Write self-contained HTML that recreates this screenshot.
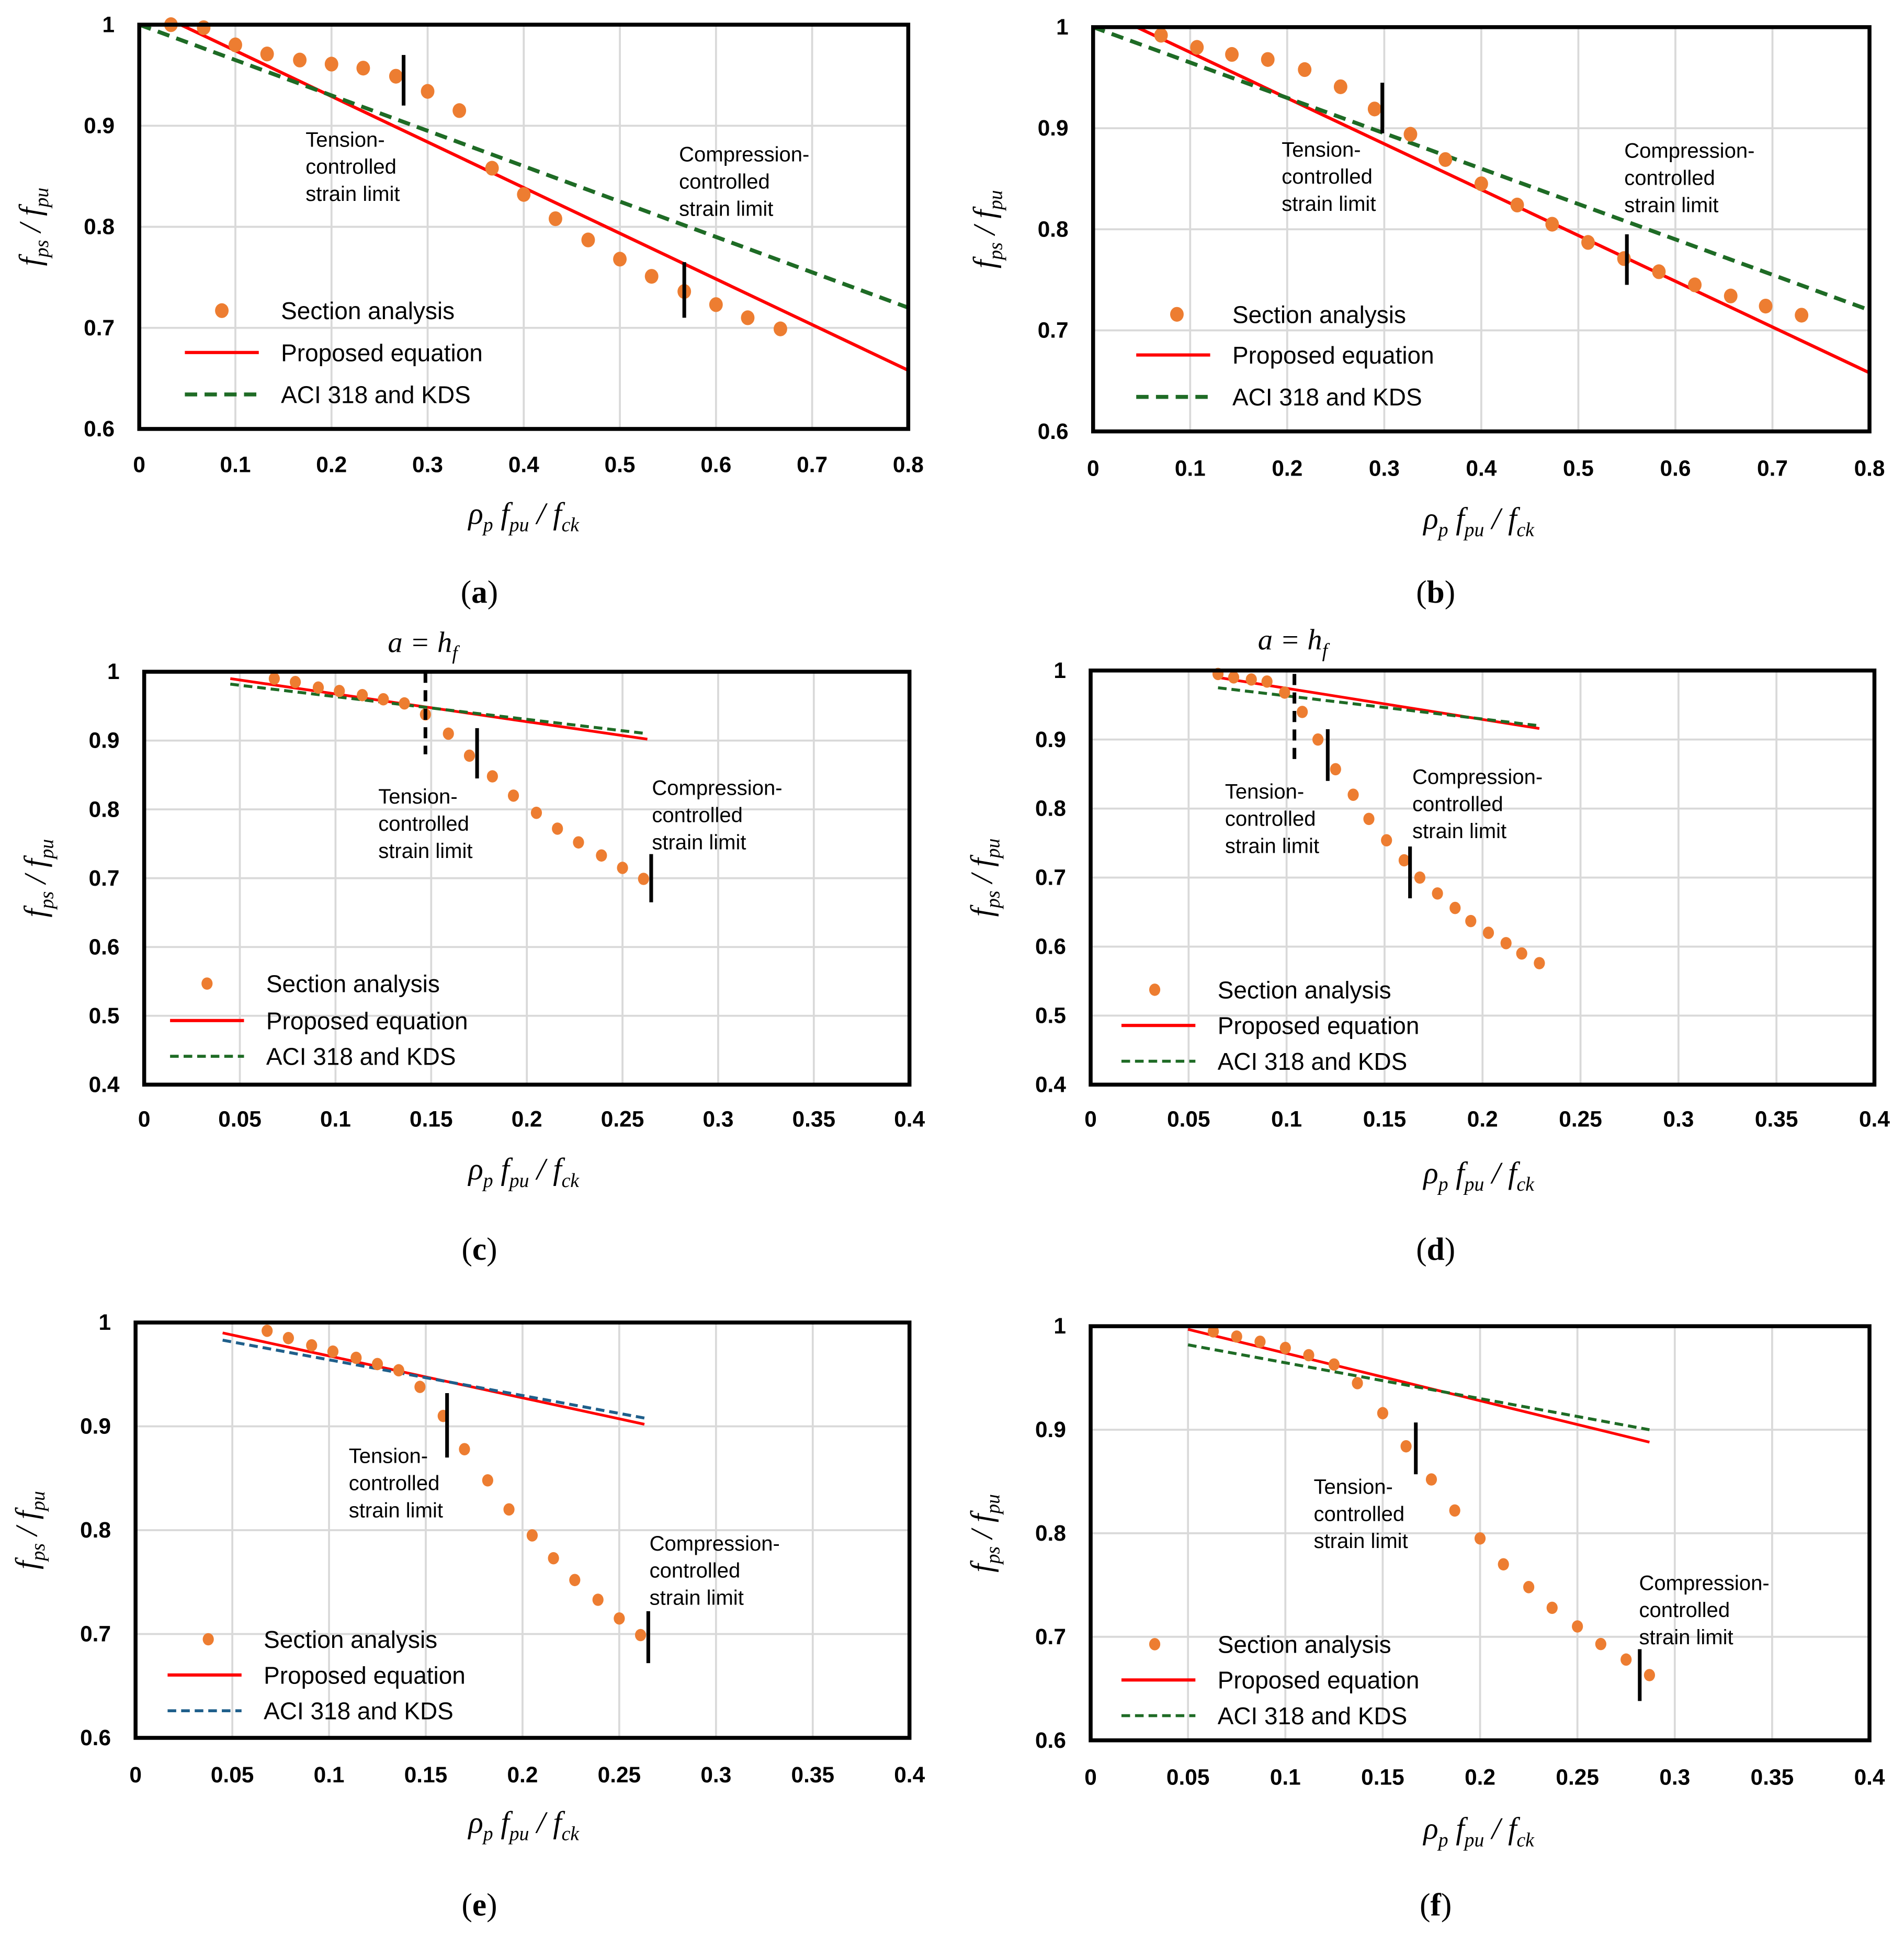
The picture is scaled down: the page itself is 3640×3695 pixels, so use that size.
<!DOCTYPE html>
<html><head><meta charset="utf-8"><style>
html,body{margin:0;padding:0;background:#fff;}
svg{display:block;}
</style></head><body>
<svg id="fig" xmlns="http://www.w3.org/2000/svg" width="3640" height="3695" viewBox="0 0 1545 1568.3"></svg>
<script>
// ---------- DATA ----------
const aX=[0.033,0.067,0.1,0.133,0.167,0.2,0.233,0.267,0.3,0.333,0.367,0.4,0.433,0.467,0.5,0.533,0.567,0.6,0.633,0.667];
const aY=[1.0,0.997,0.98,0.971,0.965,0.961,0.957,0.949,0.934,0.915,0.858,0.832,0.808,0.787,0.768,0.751,0.736,0.723,0.710,0.699];
const aProp=[[0.043,1.0],[0.8,0.658]];
const aAci=[[0,1.0],[0.8,0.72]];
const bX=[0.07,0.107,0.143,0.18,0.218,0.255,0.29,0.327,0.363,0.4,0.437,0.473,0.51,0.547,0.583,0.62,0.657,0.693,0.73];
const bY=[0.992,0.98,0.973,0.968,0.958,0.941,0.919,0.894,0.869,0.845,0.824,0.805,0.787,0.771,0.758,0.745,0.734,0.724,0.715];
const bProp=[[0.045,1.0],[0.8,0.658]];
const bAci=[[0,1.0],[0.8,0.72]];
const cX=[0.068,0.079,0.091,0.102,0.114,0.125,0.136,0.147,0.159,0.17,0.182,0.193,0.205,0.216,0.227,0.239,0.25,0.261];
const cY=[0.99,0.985,0.977,0.972,0.966,0.96,0.954,0.938,0.91,0.878,0.848,0.82,0.795,0.772,0.752,0.733,0.715,0.699];
const cProp=[[0.045,0.99],[0.263,0.902]];
const cAci=[[0.045,0.982],[0.263,0.91]];
const dX=[0.065,0.073,0.082,0.09,0.099,0.108,0.116,0.125,0.134,0.142,0.151,0.16,0.168,0.177,0.186,0.194,0.203,0.212,0.22,0.229];
const dY=[0.995,0.99,0.987,0.984,0.968,0.94,0.9,0.857,0.82,0.785,0.754,0.725,0.7,0.677,0.656,0.637,0.62,0.605,0.59,0.576];
const dProp=[[0.065,0.99],[0.229,0.916]];
const dAci=[[0.065,0.975],[0.229,0.92]];
const eX=[0.068,0.079,0.091,0.102,0.114,0.125,0.136,0.147,0.159,0.17,0.182,0.193,0.205,0.216,0.227,0.239,0.25,0.261];
const eY=[0.992,0.985,0.978,0.972,0.966,0.96,0.954,0.938,0.91,0.878,0.848,0.82,0.795,0.773,0.752,0.733,0.715,0.699];
const eProp=[[0.045,0.99],[0.263,0.902]];
const eAci=[[0.045,0.983],[0.263,0.908]];
const fX=[0.063,0.075,0.087,0.1,0.112,0.125,0.137,0.15,0.162,0.175,0.187,0.2,0.212,0.225,0.237,0.25,0.262,0.275,0.287];
const fY=[0.995,0.99,0.985,0.979,0.972,0.963,0.945,0.916,0.884,0.852,0.822,0.795,0.77,0.748,0.728,0.71,0.693,0.678,0.663];
const fProp=[[0.05,0.997],[0.287,0.888]];
const fAci=[[0.05,0.982],[0.287,0.9]];
const xTicks08=[0,0.1,0.2,0.3,0.4,0.5,0.6,0.7,0.8];
const xTicks04=[0,0.05,0.1,0.15,0.2,0.25,0.3,0.35,0.4];
const yTicks06=[0.6,0.7,0.8,0.9,1];
const yTicks04=[0.4,0.5,0.6,0.7,0.8,0.9,1];

const NS="http://www.w3.org/2000/svg";
const svg=document.getElementById('fig');
function mk(tag,attrs,parent){const e=document.createElementNS(NS,tag);for(const k in attrs)e.setAttribute(k,attrs[k]);(parent||svg).appendChild(e);return e;}

const panels=[
 {id:'a',L:113,R:737,T:20,B:348,x0:0,x1:0.8,y0:0.6,y1:1,xt:xTicks08,yt:yTicks06,X:aX,Y:aY,prop:aProp,aci:aAci,aciCol:'#1e6b25',thick:true,
  marks:[[0.275,0.97,0.92],[0.567,0.765,0.71]],dash:null,leg:[180,252,286,320,228],ten:[248,113],com:[551,125],cap:[389,480],xl:377,tl:[425,420]},
 {id:'b',L:887,R:1517,T:22,B:350,x0:0,x1:0.8,y0:0.6,y1:1,xt:xTicks08,yt:yTicks06,X:bX,Y:bY,prop:bProp,aci:bAci,aciCol:'#1e6b25',thick:true,
  marks:[[0.298,0.945,0.895],[0.55,0.795,0.745]],dash:null,leg:[955,255,288,322,1000],ten:[1040,121],com:[1318,122],cap:[1165,480],xl:380,tl:[1200,424]},
 {id:'c',L:117,R:738,T:545,B:880,x0:0,x1:0.4,y0:0.4,y1:1,xt:xTicks04,yt:yTicks04,X:cX,Y:cY,prop:cProp,aci:cAci,aciCol:'#1e6b25',thick:false,
  marks:[[0.174,0.918,0.845],[0.265,0.735,0.665]],dash:[0.147,1.0,0.88],ah:[343,521],leg:[168,798,828,857,216],ten:[307,646],com:[529,639],cap:[389,1013],xl:908,tl:[425,952]},
 {id:'d',L:885,R:1521,T:544,B:880,x0:0,x1:0.4,y0:0.4,y1:1,xt:xTicks04,yt:yTicks04,X:dX,Y:dY,prop:dProp,aci:dAci,aciCol:'#1e6b25',thick:false,
  marks:[[0.121,0.915,0.84],[0.163,0.745,0.67]],dash:[0.104,0.995,0.87],ah:[1049,519],leg:[937,803,832,861,988],ten:[994,642],com:[1146,630],cap:[1165,1013],xl:908,tl:[1200,955]},
 {id:'e',L:110,R:738,T:1073,B:1410,x0:0,x1:0.4,y0:0.6,y1:1,xt:xTicks04,yt:yTicks06,X:eX,Y:eY,prop:eProp,aci:eAci,aciCol:'#1f5f8b',thick:false,
  marks:[[0.161,0.932,0.87],[0.265,0.722,0.672]],dash:null,leg:[169,1330,1359,1388,214],ten:[283,1181],com:[527,1252],cap:[389,1545],xl:1440,tl:[425,1482]},
 {id:'f',L:885,R:1517,T:1076,B:1412,x0:0,x1:0.4,y0:0.6,y1:1,xt:xTicks04,yt:yTicks06,X:fX,Y:fY,prop:fProp,aci:fAci,aciCol:'#1e6b25',thick:false,
  marks:[[0.167,0.907,0.857],[0.282,0.688,0.638]],dash:null,leg:[937,1334,1363,1392,988],ten:[1066,1206],com:[1330,1284],cap:[1165,1545],xl:1442,tl:[1200,1487]}
];

const SANS='"Liberation Sans", Arial, sans-serif';
const SERIF='"Liberation Serif", "Times New Roman", serif';

panels.forEach(p=>{
  const g=mk('g',{});
  
  
  const sx=v=>p.L+(v-p.x0)/(p.x1-p.x0)*(p.R-p.L);
  const sy=v=>p.B-(v-p.y0)/(p.y1-p.y0)*(p.B-p.T);
  p.xt.forEach(t=>{const l=mk('line',{x1:sx(t),x2:sx(t),y1:p.T,y2:p.B,stroke:'#d9d9d9','stroke-width':1.6},g);
    });
  p.yt.forEach(t=>{const l=mk('line',{x1:p.L,x2:p.R,y1:sy(t),y2:sy(t),stroke:'#d9d9d9','stroke-width':1.6},g);
    });
  p.xt.forEach(t=>{const e=mk('text',{x:sx(t),y:p.xl+6,'text-anchor':'middle','font-family':SANS,'font-size':18,'font-weight':'bold',fill:'#000'},g);
    e.textContent=String(t);});
  p.yt.forEach(t=>{const e=mk('text',{x:p.L-20,y:sy(t)+6,'text-anchor':'end','font-family':SANS,'font-size':18,'font-weight':'bold',fill:'#000'},g);
    e.textContent=String(t);});
  const pl=mk('line',{x1:sx(p.prop[0][0]),y1:sy(p.prop[0][1]),x2:sx(p.prop[1][0]),y2:sy(p.prop[1][1]),stroke:'#ff0000','stroke-width':p.thick?2.6:2.2},g);
  
  const al=mk('line',{x1:sx(p.aci[0][0]),y1:sy(p.aci[0][1]),x2:sx(p.aci[1][0]),y2:sy(p.aci[1][1]),stroke:p.aciCol,'stroke-width':p.thick?3.2:2.4,'stroke-dasharray':p.thick?'10,6':'7,4'},g);
  
  p.X.forEach((x,i)=>{const c=mk('ellipse',{cx:sx(x),cy:sy(p.Y[i]),rx:p.thick?5.5:4.5,ry:p.thick?6:5,fill:'#ed7d31'},g);
    });
  p.marks.forEach((m,i)=>{const l=mk('line',{x1:sx(m[0]),x2:sx(m[0]),y1:sy(m[1]),y2:sy(m[2]),stroke:'#000','stroke-width':3},g);
    });
  if(p.dash){const l=mk('line',{x1:sx(p.dash[0]),x2:sx(p.dash[0]),y1:sy(p.dash[1]),y2:sy(p.dash[2]),stroke:'#000','stroke-width':3,'stroke-dasharray':'9,6'},g);
    
    const t=mk('text',{x:p.ah[0],y:p.ah[1]+8,'text-anchor':'middle','font-family':SERIF,'font-size':24,'font-style':'italic',fill:'#000'},g);
    t.innerHTML='a = h<tspan font-size="16" dy="6">f</tspan>';
    }
  const fr=mk('rect',{x:p.L,y:p.T,width:p.R-p.L,height:p.B-p.T,fill:'none',stroke:'#000','stroke-width':3.2},g);
  
  function lines3(x,y,arr,name){const t=mk('text',{x:x,y:y+6,'font-family':SANS,'font-size':17,fill:'#000'},g);
    arr.forEach((s,i)=>{const ts=mk('tspan',{x:x,dy:i?22:0},t);ts.textContent=s;});
    }
  lines3(p.ten[0],p.ten[1],['Tension-','controlled','strain limit'],'tension-limit-label');
  lines3(p.com[0],p.com[1],['Compression-','controlled','strain limit'],'compression-limit-label');
  const lg=mk('g',{},g);
  const [mx,my,ly1,ly2,tx]=p.leg;
  const lm=mk('ellipse',{cx:mx,cy:my,rx:p.thick?5.5:4.5,ry:p.thick?6:5,fill:'#ed7d31'},lg);
  
  const l1=mk('line',{x1:tx-78,x2:tx-18,y1:ly1,y2:ly1,stroke:'#ff0000','stroke-width':2.6},lg);
  
  const l2=mk('line',{x1:tx-78,x2:tx-18,y1:ly2,y2:ly2,stroke:p.aciCol,'stroke-width':p.thick?3.2:2.4,'stroke-dasharray':p.thick?'10,6':'7,4'},lg);
  
  [['Section analysis',my],['Proposed equation',ly1],['ACI 318 and KDS',ly2]].forEach(a=>{
    const t=mk('text',{x:tx,y:a[1]+7,'font-family':SANS,'font-size':19.5,fill:'#000'},lg);t.textContent=a[0];
    });
  const xt=mk('text',{x:p.tl[0],y:p.tl[1]+5,'text-anchor':'middle','font-family':SERIF,'font-size':25,'font-style':'italic',fill:'#000'},g);
  xt.innerHTML='ρ<tspan font-size="16" dy="6">p</tspan><tspan dy="-6"> f</tspan><tspan font-size="16" dy="6">pu</tspan><tspan dy="-6"> / f</tspan><tspan font-size="16" dy="6">ck</tspan>';
  
  const cy=(p.T+p.B)/2, cx=p.L-80;
  const yt=mk('text',{x:cx,y:cy,'text-anchor':'middle','font-family':SERIF,'font-size':25,'font-style':'italic',fill:'#000',transform:'rotate(-90 '+cx+' '+cy+')'},g);
  yt.innerHTML='f<tspan font-size="16" dy="6">ps</tspan><tspan dy="-6"> / f</tspan><tspan font-size="16" dy="6">pu</tspan>';
  
  const cp=mk('text',{x:p.cap[0],y:p.cap[1]+9,'text-anchor':'middle','font-family':SERIF,'font-size':26,fill:'#000'},g);
  cp.innerHTML='(<tspan font-weight="bold">'+p.id+'</tspan>)';
  
});
</script>
</body></html>
